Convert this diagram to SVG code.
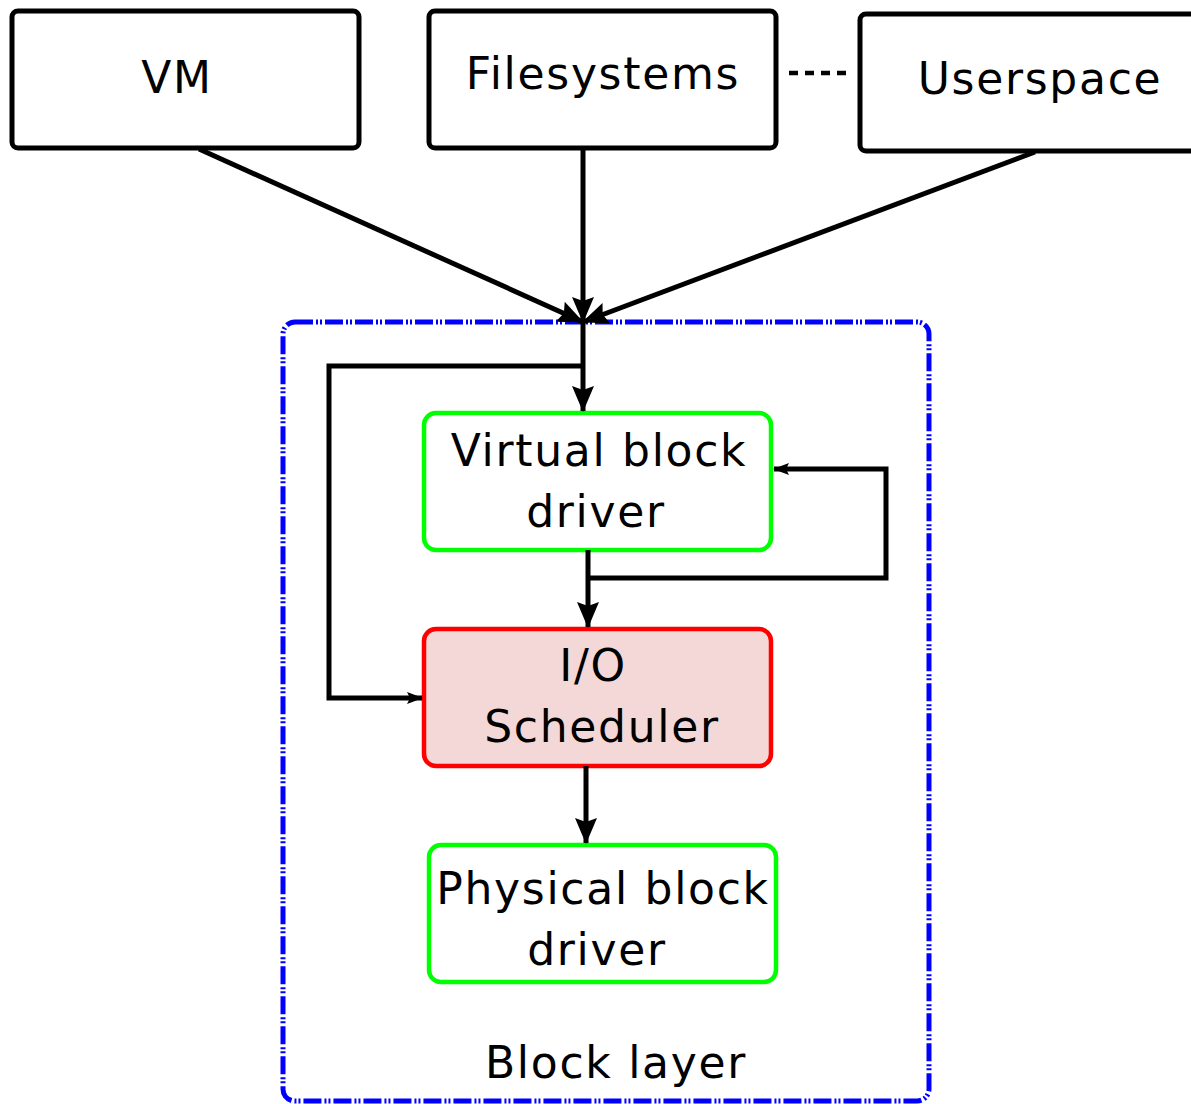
<svg xmlns="http://www.w3.org/2000/svg" width="1191" height="1104" viewBox="0 0 1191 1104">
  <style>
    .box { fill: #ffffff; stroke: #000000; stroke-width: 5; }
    .green { fill: #ffffff; stroke: #00ff00; stroke-width: 4.5; }
    .sched { fill: #f4d7d7; stroke: #ff0000; stroke-width: 4.5; }
    .layer { fill: none; stroke: #0000ff; stroke-width: 5; stroke-dasharray: 18 3 2 2 2 3; }
    .wire { fill: none; stroke: #000000; stroke-width: 5; }
    text { font-family: "DejaVu Sans", sans-serif; font-size: 44px; letter-spacing: 1.7px; fill: #000000; text-anchor: middle; }
  </style>
  <defs>
    <marker id="head" markerUnits="userSpaceOnUse" markerWidth="26" markerHeight="26" viewBox="0 0 26 26" refX="25" refY="13" orient="auto">
      <path d="M0,2 L26,13 L0,24 L4,13 Z" fill="#000000"/>
    </marker>
    <marker id="headsmall" markerUnits="userSpaceOnUse" markerWidth="16" markerHeight="14" viewBox="0 0 16 14" refX="15" refY="7" orient="auto">
      <path d="M0,1 L16,7 L0,13 L3,7 Z" fill="#000000"/>
    </marker>
  </defs>

  <!-- block layer boundary -->
  <g id="block-layer">
    <rect class="layer" x="283" y="322" width="646" height="779" rx="12"/>
    <text x="616" y="1078">Block layer</text>
  </g>

  <!-- request sources -->
  <g id="vm">
    <rect class="box" x="12" y="11" width="347" height="137" rx="6"/>
    <text x="177" y="93">VM</text>
  </g>
  <g id="filesystems">
    <rect class="box" x="429" y="11" width="347" height="137" rx="6"/>
    <text x="603" y="89">Filesystems</text>
  </g>
  <g id="userspace">
    <rect class="box" x="860" y="14" width="340" height="137" rx="6"/>
    <text x="1040" y="94">Userspace</text>
  </g>

  <!-- block layer stages -->
  <g id="virtual-block-driver">
    <rect class="green" x="424" y="413" width="347" height="137" rx="12"/>
    <text x="599" y="466">Virtual block</text>
    <text x="596" y="527">driver</text>
  </g>
  <g id="io-scheduler">
    <rect class="sched" x="424" y="629" width="347" height="137" rx="12"/>
    <text x="593" y="681">I/O</text>
    <text x="602" y="742">Scheduler</text>
  </g>
  <g id="physical-block-driver">
    <rect class="green" x="429" y="845" width="347" height="137" rx="12"/>
    <text x="603" y="904">Physical block</text>
    <text x="597" y="965">driver</text>
  </g>

  <g id="connectors">
    <!-- ellipsis between sources -->
    <line x1="789" y1="73" x2="846" y2="73" stroke="#000000" stroke-width="4.5" stroke-dasharray="9 7"/>
    <!-- sources into the block layer -->
    <line class="wire" x1="199" y1="149" x2="583" y2="322" marker-end="url(#head)"/>
    <line class="wire" x1="583" y1="149" x2="583" y2="322" marker-end="url(#head)"/>
    <line class="wire" x1="1035" y1="152" x2="583" y2="322" marker-end="url(#head)"/>
    <!-- entry to virtual block driver -->
    <line class="wire" x1="583" y1="322" x2="583" y2="411" marker-end="url(#head)"/>
    <!-- bypass straight to the scheduler -->
    <polyline class="wire" points="583,366 329,366 329,698 422,698" marker-end="url(#headsmall)"/>
    <!-- virtual driver down to scheduler -->
    <line class="wire" x1="588" y1="550" x2="588" y2="627" marker-end="url(#head)"/>
    <!-- stacked virtual drivers loop back -->
    <polyline class="wire" points="588,578 886,578 886,469 774,469" marker-end="url(#headsmall)"/>
    <!-- scheduler to physical driver -->
    <line class="wire" x1="586" y1="766" x2="586" y2="843" marker-end="url(#head)"/>
  </g>
</svg>
